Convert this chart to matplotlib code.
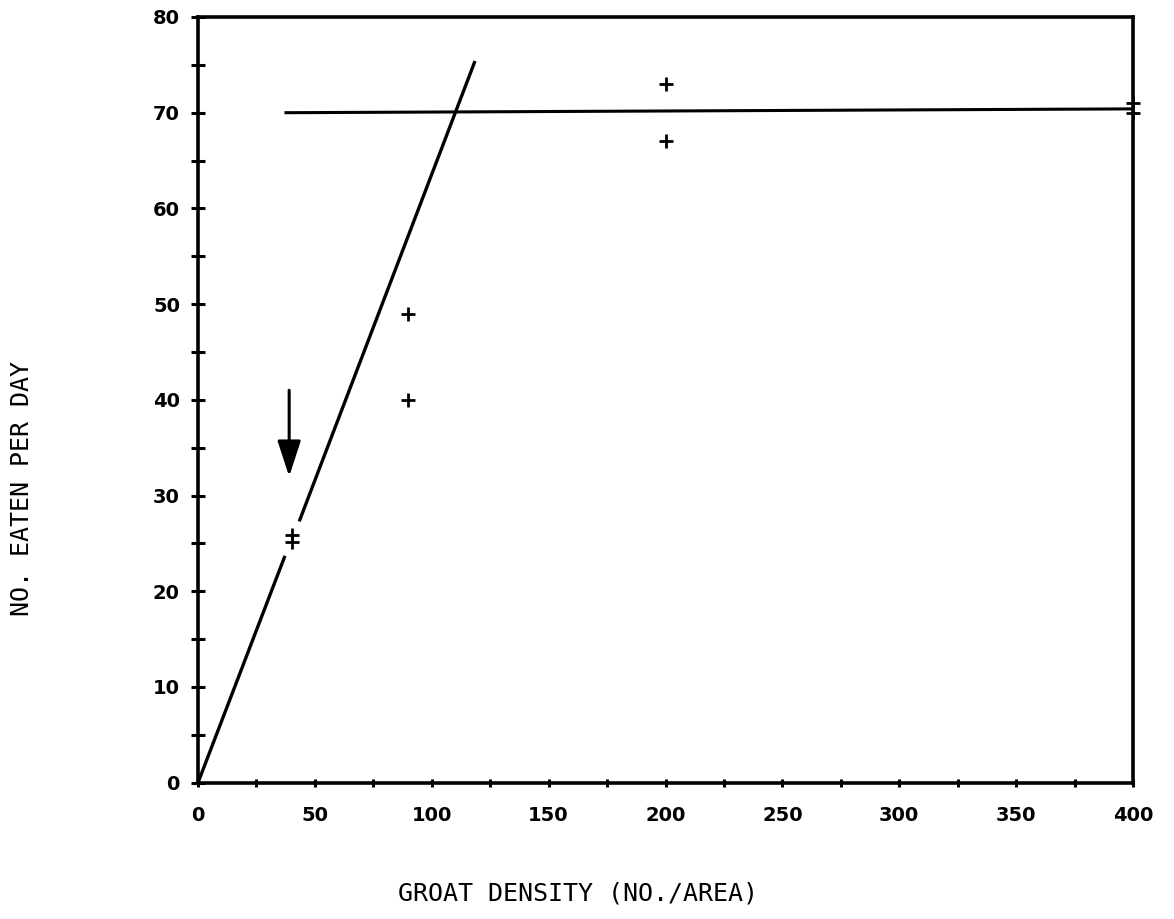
import matplotlib
matplotlib.use("Agg")
import matplotlib.pyplot as plt

# fitted functional response: linear rise, then plateau
rise_x = [0, 37.2]
rise_y = [0, 23.7]
rise2_x = [43.3, 118.5]
rise2_y = [27.3, 75.4]
plateau_x = [37, 400]
plateau_y = [70.0, 70.4]

# observed points (groat density, no. eaten per day)
obs_x = [40, 40, 90, 90, 200, 200, 400, 400]
obs_y = [25.9, 25.1, 49, 40, 73, 67, 71, 70]

arrow_x = 39
arrow_top, arrow_tip = 41.0, 32.0

fig = plt.figure(figsize=(11.74, 9.19), dpi=100)
ax = fig.add_axes([198 / 1174, 1 - 782.7 / 919, 935 / 1174, 765.7 / 919])

ax.plot(rise_x, rise_y, color="black", lw=2.4, solid_capstyle="butt")
ax.plot(rise2_x, rise2_y, color="black", lw=2.4, solid_capstyle="butt")
ax.plot(plateau_x, plateau_y, color="black", lw=2.2, solid_capstyle="butt")
ax.scatter(obs_x, obs_y, marker="+", s=110, color="black", linewidths=2.0,
           clip_on=False, zorder=3)
ax.annotate("", xy=(arrow_x, arrow_tip), xytext=(arrow_x, arrow_top),
            arrowprops=dict(arrowstyle="-|>,head_length=1.1,head_width=0.36",
                            mutation_scale=20, color="black", lw=2.2,
                            shrinkA=0, shrinkB=0))

ax.set_xlim(0, 400)
ax.set_ylim(0, 80)
ax.set_xticks(range(0, 401, 50))
ax.set_xticks(range(0, 401, 25), minor=True)
ax.set_yticks(range(0, 81, 10))
ax.set_yticks(range(0, 81, 5), minor=True)
ax.tick_params(which="both", direction="inout", width=2.2, labelsize=14)
ax.tick_params(axis="y", which="both", length=10, pad=8)
ax.tick_params(axis="x", which="both", length=6, pad=14)
for lab in ax.get_xticklabels() + ax.get_yticklabels():
    lab.set_fontweight("bold")
for s in ax.spines.values():
    s.set_linewidth(2.6)

fig.text(578 / 1174, 1 - 893 / 919, "GROAT DENSITY (NO./AREA)", ha="center",
         va="center", fontsize=18, family="DejaVu Sans Mono")
fig.text(22 / 1174, 1 - 488 / 919, "NO. EATEN PER DAY", ha="center",
         va="center", rotation=90, fontsize=18, family="DejaVu Sans Mono")

fig.savefig("out.png", dpi=100)
